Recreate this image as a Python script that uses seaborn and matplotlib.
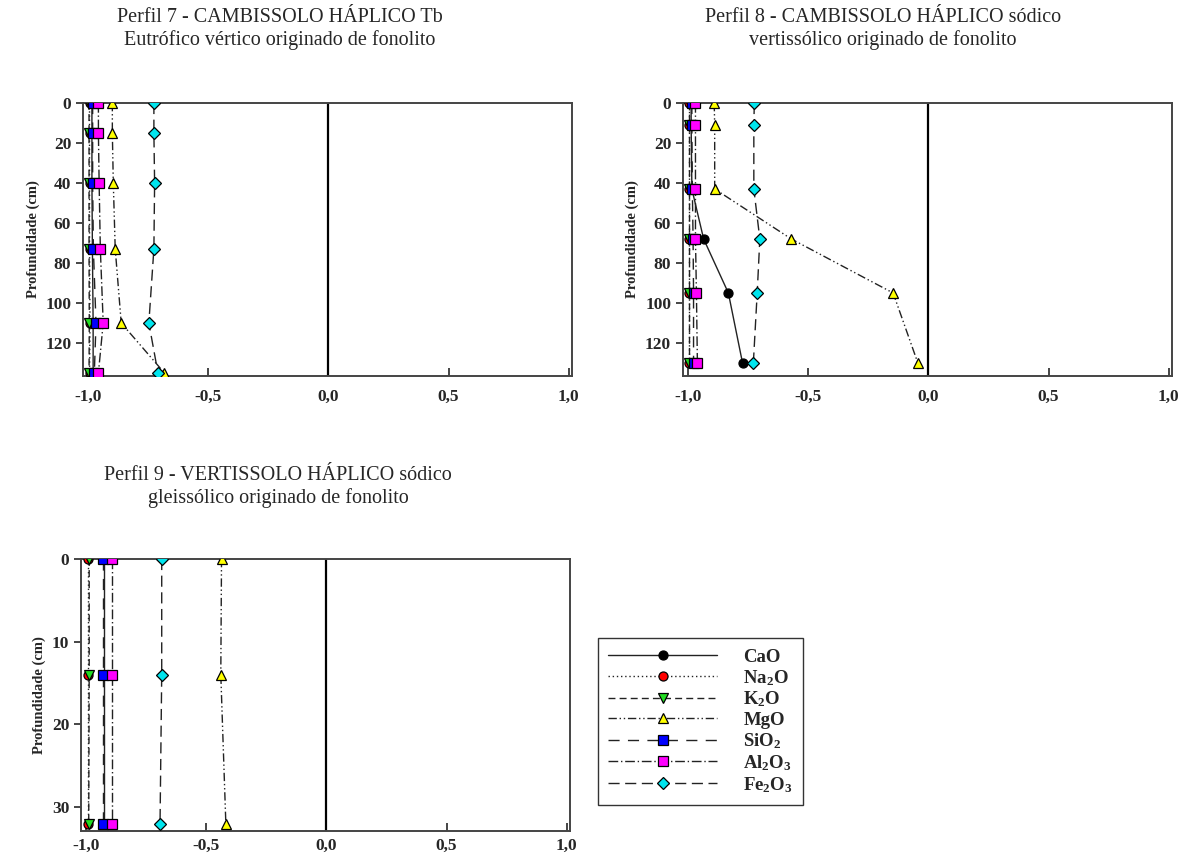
import matplotlib
matplotlib.use("Agg")
import matplotlib.pyplot as plt
import seaborn as sns

# depths (cm) of each profile
depth_p7 = [0, 15, 40, 73, 110, 135]
depth_p8 = [0, 11, 43, 68, 95, 130]
depth_p9 = [0, 14, 32]

oxides = ["CaO", "Na2O", "K2O", "MgO", "SiO2", "Al2O3", "Fe2O3"]
labels = ["CaO", "Na$_2$O", "K$_2$O", "MgO", "SiO$_2$", "Al$_2$O$_3$", "Fe$_2$O$_3$"]

p7 = {
    "CaO":   [-0.985, -0.985, -0.985, -0.983, -0.980, -0.980],
    "Na2O":  [-0.995, -0.995, -0.995, -0.995, -0.993, -0.995],
    "K2O":   [-0.997, -0.997, -0.997, -0.997, -0.996, -0.997],
    "MgO":   [-0.900, -0.900, -0.896, -0.888, -0.863, -0.683],
    "SiO2":  [-0.982, -0.982, -0.982, -0.979, -0.968, -0.975],
    "Al2O3": [-0.958, -0.958, -0.955, -0.950, -0.938, -0.958],
    "Fe2O3": [-0.727, -0.727, -0.724, -0.727, -0.748, -0.710],
}
p8 = {
    "CaO":   [-0.988, -0.988, -0.985, -0.936, -0.833, -0.774],
    "Na2O":  [-0.995, -0.995, -0.995, -0.995, -0.995, -0.995],
    "K2O":   [-0.997, -0.997, -0.997, -0.997, -0.997, -0.997],
    "MgO":   [-0.892, -0.890, -0.890, -0.571, -0.147, -0.044],
    "SiO2":  [-0.985, -0.985, -0.983, -0.980, -0.978, -0.978],
    "Al2O3": [-0.970, -0.970, -0.970, -0.970, -0.966, -0.962],
    "Fe2O3": [-0.725, -0.727, -0.727, -0.702, -0.713, -0.729],
}
p9 = {
    "CaO":   [-0.928, -0.928, -0.928],
    "Na2O":  [-0.995, -0.995, -0.995],
    "K2O":   [-0.988, -0.988, -0.990],
    "MgO":   [-0.437, -0.440, -0.419],
    "SiO2":  [-0.929, -0.929, -0.929],
    "Al2O3": [-0.892, -0.892, -0.892],
    "Fe2O3": [-0.686, -0.686, -0.693],
}

xticks = [-1.0, -0.5, 0.0, 0.5, 1.0]
xticklabels = ["-1,0", "-0,5", "0,0", "0,5", "1,0"]

titles = [
    "Perfil 7 - CAMBISSOLO HÁPLICO Tb\nEutrófico vértico originado de fonolito",
    "Perfil 8 - CAMBISSOLO HÁPLICO sódico\nvertissólico originado de fonolito",
    "Perfil 9 - VERTISSOLO HÁPLICO sódico\ngleissólico originado de fonolito",
]

styles = {
    "CaO":   dict(marker="o", mfc="black", ls="-"),
    "Na2O":  dict(marker="o", mfc="red", ls=(0, (1, 2))),
    "K2O":   dict(marker="v", mfc="#22dd22", ls=(0, (5, 3))),
    "MgO":   dict(marker="^", mfc="#ffff00", ls=(0, (6, 2, 1, 2, 1, 2))),
    "SiO2":  dict(marker="s", mfc="#0000ff", ls=(0, (8, 6))),
    "Al2O3": dict(marker="s", mfc="#ff00ff", ls=(0, (7, 2, 1, 2))),
    "Fe2O3": dict(marker="D", mfc="#00e5ee", ls=(0, (8, 4))),
}

sns.set_style("ticks")
plt.rcParams["font.family"] = ["Liberation Serif", "DejaVu Serif"]
plt.rcParams["mathtext.default"] = "regular"

fig = plt.figure(figsize=(11.88, 8.61), dpi=100)
ax1 = fig.add_axes([0.0699, 0.5633, 0.4116, 0.3171])
ax2 = fig.add_axes([0.5749, 0.5633, 0.4116, 0.3171])
ax3 = fig.add_axes([0.0682, 0.0348, 0.4116, 0.3160])

panels = [(ax1, p7, depth_p7, 136.5, [0, 20, 40, 60, 80, 100, 120], 9),
          (ax2, p8, depth_p8, 136.5, [0, 20, 40, 60, 80, 100, 120], 9),
          (ax3, p9, depth_p9, 32.9, [0, 10, 20, 30], 5)]

for ax, data, depth, ymax, yticks, xpad in panels:
    ax.axvline(0, color="black", lw=1.6, zorder=1)
    for ox, lab in zip(oxides, labels):
        st = styles[ox]
        sns.lineplot(x=data[ox], y=depth, ax=ax, orient="y", sort=False,
                     estimator=None, color="#222222", lw=1.0, ls=st["ls"],
                     marker=st["marker"], markersize=6.5 if st["marker"] != "D" else 6,
                     markerfacecolor=st["mfc"], markeredgecolor="black",
                     markeredgewidth=0.9, label=lab, zorder=3)
    if ax.get_legend():
        ax.get_legend().remove()
    ax.set_xlim(-1.022, 1.014)
    ax.set_ylim(ymax, 0)
    ax.set_xticks(xticks)
    ax.set_xticklabels(xticklabels)
    ax.set_yticks(yticks)
    ax.set_xlabel("")
    ax.set_ylabel("Profundidade (cm)", fontsize=10.5, fontweight="bold", labelpad=4)
    ax.tick_params(axis="x", direction="in", length=6, width=1.2, pad=xpad)
    ax.tick_params(axis="y", direction="out", length=5, width=1.2)
    for t in ax.get_xticklabels() + ax.get_yticklabels():
        t.set_fontweight("bold")
        t.set_fontsize(12.5)
    for sp in ax.spines.values():
        sp.set_visible(True)
        sp.set_color("#444444")
        sp.set_linewidth(1.4)

fig.text(280 / 1188, 1 - 29 / 861, titles[0], ha="center", va="center", fontsize=14.5, linespacing=1.2)
fig.text(883 / 1188, 1 - 29 / 861, titles[1], ha="center", va="center", fontsize=14.5, linespacing=1.2)
fig.text(278 / 1188, 1 - 487 / 861, titles[2], ha="center", va="center", fontsize=14.5, linespacing=1.2)

handles, labs = ax1.get_legend_handles_labels()
leg = fig.legend(handles, labs, loc="lower left", bbox_to_anchor=(598 / 1188, 56 / 861),
                 borderaxespad=0, frameon=True, fancybox=False, edgecolor="black",
                 handlelength=5.8, prop={"weight": "bold", "size": 13.5},
                 labelspacing=0.12, borderpad=0.55, handletextpad=1.4)
leg.get_frame().set_linewidth(1.0)

fig.savefig("out.png", dpi=100)
